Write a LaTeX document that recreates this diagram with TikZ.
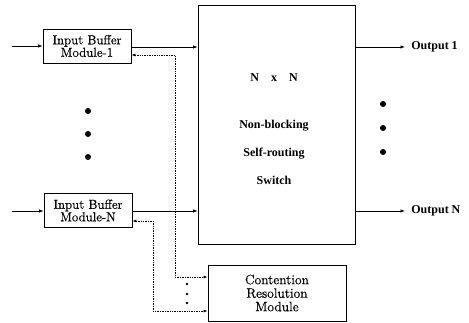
\documentclass[tikz,border=0pt]{standalone}
\usepackage{fontspec}
\newfontfamily\boldserif{Liberation Serif}[UprightFont=* Bold]
\newfontfamily\boxfont{Latin Modern Roman}[FakeBold=0.6]
\usetikzlibrary{arrows.meta}
\begin{document}
\begin{tikzpicture}[x=1pt,y=-1pt,
  line width=0.8pt,
  tip/.style={-{Latex[length=4.5pt,width=3.5pt]}},
  bothtip/.style={{Latex[length=4pt,width=3pt]}-{Latex[length=4pt,width=3pt]}},
  fb/.style={densely dotted, line width=0.7pt},
  bufbox/.style={draw, rectangle, minimum width=88pt, minimum height=34pt,
    inner sep=0pt, align=center, font=\boxfont\fontsize{13}{12.5}\selectfont},
  bigdot/.style={circle, fill, inner sep=0pt, minimum size=6pt},
  smalldot/.style={circle, fill, inner sep=0pt, minimum size=2.8pt},
  swtext/.style={font=\boldserif\fontsize{12}{28}\selectfont, align=center},
  outlabel/.style={anchor=west, inner sep=0pt, font=\boldserif\fontsize{12}{14}\selectfont}]
\useasboundingbox (0,0) rectangle (469,323);

% input buffer modules
\node[bufbox] (ib1) at (87,46) {Input Buffer\\Module-1};
\node[bufbox] (ibN) at (88,210.5) {Input Buffer\\Module-N};

% switch fabric
\node[draw, rectangle, minimum width=157pt, minimum height=239pt, inner sep=0pt] (sw) at (276.5,124.5) {};
\node[swtext] (swsize) at (274,78) {N\quad x\quad N};
\node[swtext] (swname) at (274,152) {Non-blocking\\Self-routing\\Switch};

% contention resolution
\node[draw, rectangle, minimum width=138pt, minimum height=56pt, inner sep=0pt,
  align=center, font=\boxfont\fontsize{13.5}{13.5}\selectfont] (crm) at (277,293)
  {Contention\\Resolution\\Module};

% inputs
\coordinate (in1) at (12,46);
\coordinate (inN) at (12,211);
\draw[tip] (in1) -- (ib1.west |- in1);
\draw[tip] (inN) -- (ibN.west |- inN);

% buffers to switch
\draw[tip] (ib1.east |- 0,47) -- (sw.west |- 0,47);
\draw[tip] (ibN.east |- 0,211) -- (sw.west |- 0,211);

% outputs
\coordinate (o1) at (405,47);
\coordinate (oN) at (405,211);
\draw[tip] (sw.east |- o1) -- (o1);
\draw[tip] (sw.east |- oN) -- (oN);
\node[outlabel] (lo1) at (411,47) {Output 1};
\node[outlabel] (loN) at (411,211) {Output N};

% feedback paths between buffers and contention resolution
\coordinate (f1a) at (175,55);
\coordinate (f1b) at (175,277);
\coordinate (fNa) at (153,221);
\coordinate (fNb) at (153,311);
\draw[fb, bothtip] (ib1.east |- f1a) -- (f1a) -- (f1b) -- (crm.west |- f1b);
\draw[fb, bothtip] (ibN.east |- fNa) -- (fNa) -- (fNb) -- (crm.west |- fNb);

% ellipsis dots
\node[bigdot] (di1) at (88,111) {};
\node[bigdot] (di2) at (88,134) {};
\node[bigdot] (di3) at (88,157) {};
\node[bigdot] (do1) at (383,104) {};
\node[bigdot] (do2) at (383,128) {};
\node[bigdot] (do3) at (383,152) {};
\node[smalldot] (dc1) at (187,284) {};
\node[smalldot] (dc2) at (187,294) {};
\node[smalldot] (dc3) at (187,303) {};
\end{tikzpicture}
\end{document}
